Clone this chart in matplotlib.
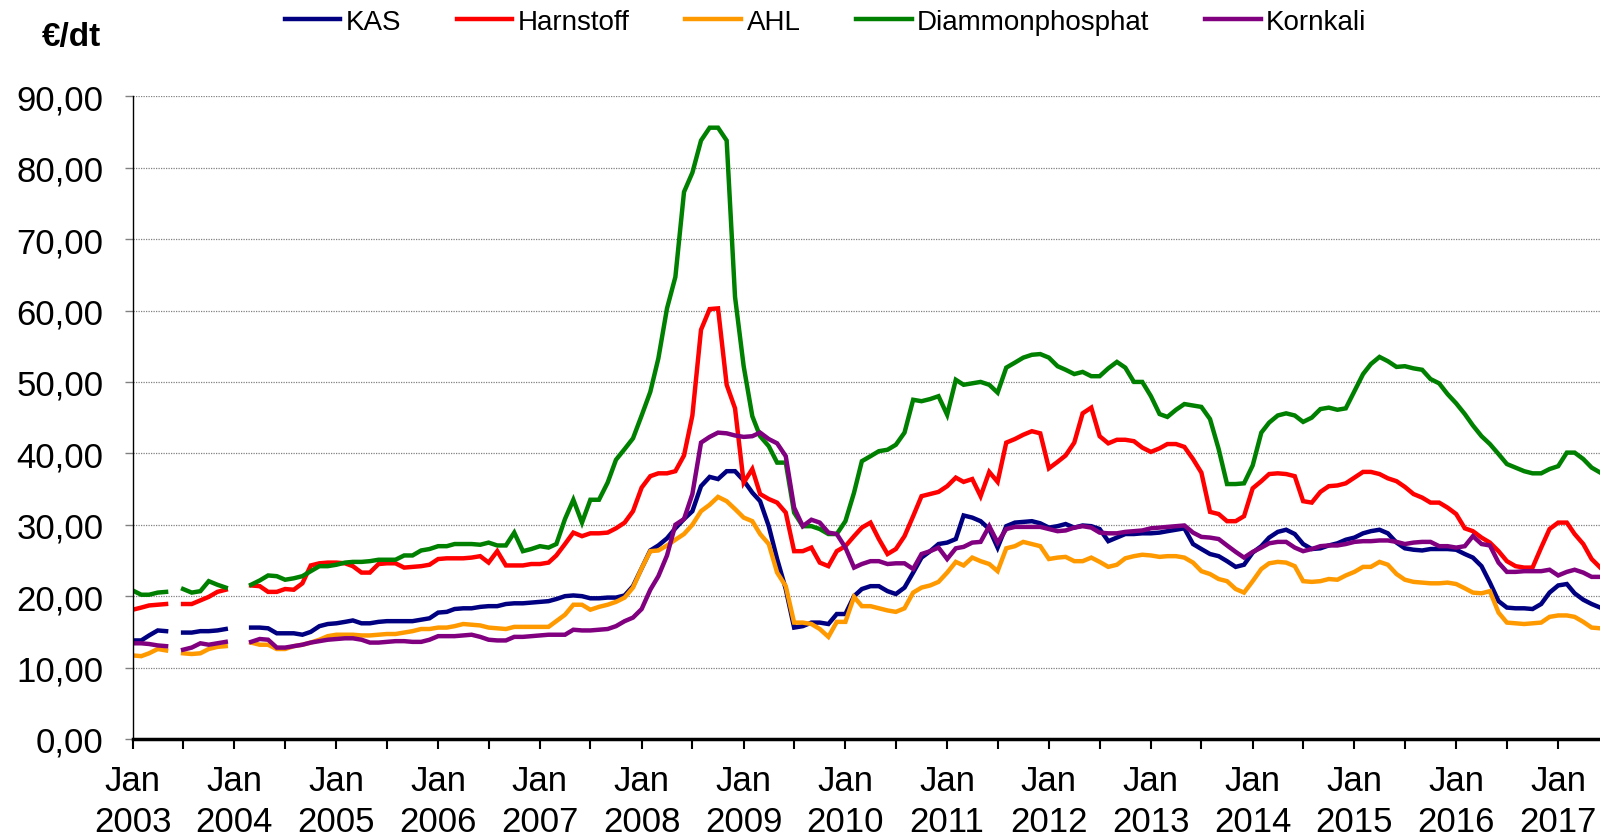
import numpy as np
import pandas as pd
import matplotlib
matplotlib.use('Agg')
import matplotlib.pyplot as plt
import matplotlib.dates as mdates
from matplotlib.ticker import FuncFormatter, MultipleLocator

plt.rcParams['font.family'] = ['Liberation Sans', 'DejaVu Sans']

nan = np.nan

# Monatswerte Jan 2003 - Jun 2017 (€/dt)
months = pd.date_range('2003-01-01', periods=174, freq='MS')

kas = [13.8, 13.8, 14.5, 15.2, 15.1, nan, 14.9, 14.9, 15.1, 15.1, 15.2, 15.4,  # 2003
       nan, nan, 15.6, 15.6, 15.5, 14.8, 14.8, 14.8, 14.6, 15.0, 15.8, 16.1,  # 2004
       16.2, 16.4, 16.6, 16.2, 16.2, 16.4, 16.5, 16.5, 16.5, 16.5, 16.7, 16.9,
       17.7, 17.8, 18.2, 18.3, 18.3, 18.5, 18.6, 18.6, 18.9, 19.0, 19.0, 19.1,
       19.2, 19.3, 19.6, 20.0, 20.1, 20.0, 19.7, 19.7, 19.8, 19.8, 20.1, 21.4,
       23.9, 26.4, 27.1, 28.1, 29.5, 30.8, 31.9, 35.4, 36.7, 36.4, 37.5, 37.5,
       36.2, 34.5, 33.3, 29.8, 25.2, 21.0, 15.6, 15.8, 16.3, 16.3, 16.1, 17.5,
       17.5, 20.0, 21.0, 21.4, 21.4, 20.7, 20.3, 21.2, 23.3, 25.4, 26.3, 27.3,
       27.5, 28.0, 31.3, 31.0, 30.5, 29.4, 26.8, 29.8, 30.3, 30.4, 30.5, 30.2,
       29.6, 29.8, 30.1, 29.6, 29.9, 29.8, 29.4, 27.7, 28.2, 28.7, 28.7, 28.8,
       28.8, 28.9, 29.1, 29.3, 29.5, 27.3, 26.6, 25.9, 25.6, 24.9, 24.1, 24.4,
       26.1, 27.0, 28.2, 29.0, 29.3, 28.7, 27.3, 26.6, 26.7, 27.1, 27.4, 27.9,
       28.2, 28.8, 29.1, 29.3, 28.8, 27.5, 26.7, 26.5, 26.4, 26.6, 26.6, 26.6,
       26.5, 25.9, 25.4, 24.2, 21.9, 19.3, 18.4, 18.3, 18.3, 18.2, 18.9, 20.5,
       21.5, 21.7, 20.4, 19.5, 18.9, 18.4]

harnstoff = [18.1, 18.4, 18.7, 18.8, 18.9, nan, 18.9, 18.9, 19.4, 19.9, 20.6, 20.9,
             nan, nan, 21.5, 21.4, 20.6, 20.6, 21.0, 20.9, 21.8, 24.3, 24.6, 24.7,
             24.7, 24.6, 24.2, 23.3, 23.3, 24.5, 24.6, 24.6, 24.0, 24.1, 24.2, 24.4,
             25.2, 25.3, 25.3, 25.3, 25.4, 25.6, 24.7, 26.3, 24.3, 24.3, 24.3, 24.5,
             24.5, 24.7, 25.7, 27.3, 28.9, 28.4, 28.8, 28.8, 28.9, 29.5, 30.3, 31.9,
             35.2, 36.8, 37.2, 37.2, 37.5, 39.7, 45.3, 57.3, 60.2, 60.3, 49.6, 46.3,
             35.9, 37.8, 34.3, 33.6, 33.1, 31.7, 26.3, 26.3, 26.8, 24.7, 24.2, 26.3,
             27.0, 28.4, 29.6, 30.3, 28.0, 25.9, 26.6, 28.4, 31.2, 34.0, 34.3, 34.6,
             35.4, 36.6, 36.0, 36.4, 34.0, 37.4, 36.0, 41.5, 42.0, 42.6, 43.1, 42.8,
             37.9, 38.8, 39.7, 41.5, 45.6, 46.4, 42.4, 41.4, 41.9, 41.9, 41.7, 40.8,
             40.2, 40.7, 41.3, 41.3, 40.9, 39.2, 37.3, 31.8, 31.5, 30.5, 30.5, 31.2,
             35.1, 36.1, 37.1, 37.2, 37.1, 36.8, 33.3, 33.1, 34.6, 35.4, 35.5, 35.8,
             36.6, 37.4, 37.4, 37.1, 36.5, 36.1, 35.3, 34.3, 33.8, 33.1, 33.1, 32.4,
             31.5, 29.5, 29.1, 28.2, 27.5, 26.3, 24.9, 24.2, 24.0, 24.0, 26.8, 29.4,
             30.3, 30.3, 28.7, 27.3, 25.2, 24.0]

ahl = [11.7, 11.6, 12.0, 12.6, 12.4, nan, 12.0, 11.9, 12.0, 12.6, 12.9, 13.0,
       nan, nan, 13.5, 13.2, 13.2, 12.6, 12.6, 13.0, 13.2, 13.5, 13.9, 14.4,
       14.6, 14.6, 14.6, 14.5, 14.5, 14.6, 14.7, 14.7, 14.9, 15.1, 15.4, 15.4,
       15.6, 15.6, 15.8, 16.1, 16.0, 15.9, 15.6, 15.5, 15.4, 15.7, 15.7, 15.7,
       15.7, 15.7, 16.5, 17.4, 18.8, 18.8, 18.1, 18.5, 18.8, 19.2, 19.8, 21.2,
       23.9, 26.3, 26.4, 27.1, 27.9, 28.7, 30.0, 31.9, 32.8, 33.9, 33.3, 32.2,
       31.0, 30.5, 28.7, 27.3, 23.3, 21.4, 16.3, 16.3, 16.1, 15.4, 14.3, 16.4,
       16.4, 19.9, 18.6, 18.6, 18.3, 18.0, 17.8, 18.3, 20.5, 21.2, 21.5, 22.0,
       23.3, 24.8, 24.3, 25.4, 24.9, 24.5, 23.5, 26.7, 27.0, 27.6, 27.3, 27.0,
       25.2, 25.4, 25.5, 24.9, 24.9, 25.4, 24.8, 24.1, 24.4, 25.3, 25.6, 25.8,
       25.7, 25.5, 25.6, 25.6, 25.4, 24.7, 23.5, 23.1, 22.4, 22.1, 21.0, 20.5,
       22.1, 23.8, 24.6, 24.8, 24.7, 24.2, 22.1, 22.0, 22.1, 22.4, 22.3, 22.9,
       23.4, 24.1, 24.1, 24.8, 24.4, 23.1, 22.3, 22.0, 21.9, 21.8, 21.8, 21.9,
       21.7, 21.1, 20.5, 20.4, 20.7, 17.7, 16.3, 16.2, 16.1, 16.2, 16.3, 17.1,
       17.3, 17.3, 17.1, 16.4, 15.6, 15.5]

dap = [20.8, 20.2, 20.2, 20.5, 20.6, nan, 21.0, 20.5, 20.7, 22.1, 21.6, 21.2,
       nan, nan, 21.6, 22.2, 22.9, 22.8, 22.3, 22.5, 22.8, 23.5, 24.2, 24.2,
       24.4, 24.7, 24.8, 24.8, 24.9, 25.1, 25.1, 25.1, 25.7, 25.7, 26.4, 26.6,
       27.0, 27.0, 27.3, 27.3, 27.3, 27.2, 27.5, 27.1, 27.1, 28.9, 26.3, 26.6,
       27.0, 26.8, 27.3, 30.8, 33.5, 30.3, 33.5, 33.5, 35.9, 39.1, 40.6, 42.1,
       45.3, 48.6, 53.3, 60.3, 64.7, 76.6, 79.3, 83.8, 85.6, 85.6, 83.8, 61.9,
       52.2, 45.2, 42.4, 41.0, 38.7, 38.7, 31.7, 29.8, 29.8, 29.4, 28.7, 28.7,
       30.5, 34.5, 38.9, 39.6, 40.3, 40.5, 41.2, 42.9, 47.5, 47.3, 47.6, 48.0,
       45.4, 50.3, 49.6, 49.8, 50.0, 49.6, 48.5, 52.0, 52.7, 53.4, 53.8, 53.9,
       53.4, 52.2, 51.7, 51.1, 51.4, 50.8, 50.8, 51.9, 52.8, 52.0, 50.0, 50.0,
       48.0, 45.5, 45.1, 46.1, 46.9, 46.7, 46.5, 44.8, 40.6, 35.7, 35.7, 35.8,
       38.3, 42.9, 44.3, 45.3, 45.6, 45.3, 44.4, 45.0, 46.2, 46.4, 46.1, 46.3,
       48.7, 51.1, 52.5, 53.5, 52.9, 52.1, 52.2, 51.9, 51.7, 50.4, 49.8, 48.3,
       47.0, 45.5, 43.9, 42.4, 41.3, 39.9, 38.5, 38.0, 37.5, 37.2, 37.2, 37.8,
       38.2, 40.1, 40.1, 39.2, 38.0, 37.3]

kornkali = [13.4, 13.4, 13.3, 13.1, 13.0, nan, 12.5, 12.8, 13.4, 13.2, 13.4, 13.6,
            nan, nan, 13.6, 14.0, 13.9, 12.8, 12.8, 13.0, 13.2, 13.5, 13.7, 13.9,
            14.0, 14.1, 14.1, 13.9, 13.5, 13.5, 13.6, 13.7, 13.7, 13.6, 13.6, 13.9,
            14.4, 14.4, 14.4, 14.5, 14.6, 14.3, 13.9, 13.8, 13.8, 14.3, 14.3, 14.4,
            14.5, 14.6, 14.6, 14.6, 15.3, 15.2, 15.2, 15.3, 15.4, 15.8, 16.5, 17.0,
            18.2, 20.9, 22.8, 25.7, 30.0, 30.8, 34.3, 41.5, 42.3, 42.9, 42.8, 42.5,
            42.3, 42.4, 42.9, 42.0, 41.4, 39.6, 32.4, 29.8, 30.7, 30.3, 28.9, 28.7,
            26.8, 24.0, 24.5, 24.9, 24.9, 24.5, 24.6, 24.6, 23.8, 25.9, 26.3, 26.8,
            25.2, 26.7, 26.9, 27.5, 27.6, 29.8, 27.5, 29.4, 29.7, 29.7, 29.7, 29.7,
            29.4, 29.1, 29.2, 29.6, 29.8, 29.6, 28.9, 28.8, 28.8, 29.0, 29.1, 29.2,
            29.5, 29.6, 29.7, 29.8, 29.9, 28.9, 28.3, 28.2, 28.0, 27.1, 26.2, 25.4,
            26.2, 26.8, 27.4, 27.6, 27.6, 26.8, 26.3, 26.6, 27.0, 27.1, 27.1, 27.3,
            27.6, 27.7, 27.7, 27.8, 27.8, 27.6, 27.3, 27.5, 27.6, 27.6, 27.0, 27.0,
            26.8, 27.0, 28.4, 27.3, 27.1, 24.7, 23.4, 23.4, 23.5, 23.5, 23.5, 23.7,
            22.9, 23.4, 23.7, 23.3, 22.7, 22.7]

series = [('KAS', kas, '#000080'),
          ('Harnstoff', harnstoff, '#FF0000'),
          ('AHL', ahl, '#FF9900'),
          ('Diammonphosphat', dap, '#008000'),
          ('Kornkali', kornkali, '#800080')]

fig = plt.figure(figsize=(16, 8.37), dpi=100)
ax = fig.add_axes([0.0829, 0.1159, 0.9171, 0.7679])

for name, vals, col in series:
    ax.plot(months, vals, color=col, lw=3.2, label=name, solid_joinstyle='miter')

ax.set_ylim(0, 90)
ax.set_xlim(months[0], pd.Timestamp('2017-05-31'))
ax.yaxis.set_major_locator(MultipleLocator(10))
ax.yaxis.set_major_formatter(FuncFormatter(lambda v, p: f'{v:.2f}'.replace('.', ',')))
ax.grid(axis='y', color='#808080', linestyle=(0, (1, 1)), linewidth=0.9)
ax.set_axisbelow(True)

ax.xaxis.set_major_locator(mdates.YearLocator())
ax.xaxis.set_minor_locator(mdates.MonthLocator(bymonth=7))
ax.xaxis.set_major_formatter(mdates.DateFormatter('%b\n%Y'))

for s in ['top', 'right']:
    ax.spines[s].set_visible(False)
ax.spines['left'].set_linewidth(1)
ax.spines['bottom'].set_linewidth(2.5)

ax.tick_params(axis='y', direction='out', length=6, width=1, color='#808080',
               labelsize=25, pad=15)
ax.tick_params(axis='x', which='both', direction='out', length=7, width=1.5,
               color='black', labelsize=25, pad=11)
for lab in ax.get_xticklabels():
    lab.set_linespacing(1.3)

fig.text(0.045, 0.955, '€/dt', fontsize=24, fontweight='bold', ha='center', va='center')

fig.legend(loc='center', bbox_to_anchor=(0.516, 0.973), ncol=5, frameon=False,
           fontsize=20, handlelength=2.0, handletextpad=0.2, columnspacing=2.0)

fig.savefig('out.png', dpi=100)
